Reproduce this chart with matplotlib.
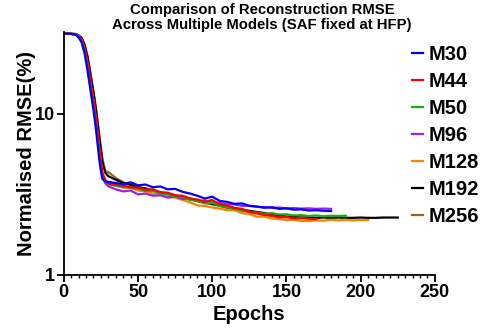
import numpy as np
import matplotlib
matplotlib.use("Agg")
import matplotlib.pyplot as plt
from matplotlib.ticker import MultipleLocator, FixedLocator, NullLocator, FixedFormatter

plt.rcParams["font.family"] = ["Liberation Sans", "DejaVu Sans"]
plt.rcParams["font.weight"] = "bold"

# epochs: dense during the drop, every 5 epochs in the tail
EPOCHS_DROP = [0, 4, 8, 10, 12, 14, 16, 18, 20, 21, 22, 23, 24, 25, 26, 28, 30]
EPOCHS_TAIL = list(range(35, 230, 5))

models = ["M30", "M44", "M50", "M96", "M128", "M192", "M256"]
colors = ["#0000ff", "#ff0000", "#13b013", "#a020f0", "#ff8000", "#000000", "#9c6424"]

drop = {
    "M30":  [31.5, 31.5, 31.0, 29.8, 27.8, 23.8, 18.5, 14.0, 10.5, 9.0, 7.5, 6.2, 5.1, 4.4, 3.95, 3.8, 3.78],
    "M44":  [31.5, 31.5, 31.2, 30.4, 28.8, 25.3, 20.5, 15.5, 12.0, 10.3, 8.7, 7.2, 6.0, 5.0, 4.3, 3.85, 3.7],
    "M50":  [31.5, 31.5, 31.2, 30.3, 28.6, 25.0, 20.2, 15.3, 11.8, 10.1, 8.5, 7.0, 5.8, 4.9, 4.2, 3.8, 3.65],
    "M96":  [31.5, 31.5, 31.2, 30.3, 28.5, 24.8, 20.0, 15.0, 11.5, 9.9, 8.3, 6.9, 5.7, 4.8, 4.1, 3.7, 3.55],
    "M128": [31.5, 31.5, 31.2, 30.4, 28.8, 25.3, 20.5, 15.5, 12.0, 10.3, 8.7, 7.2, 6.0, 5.0, 4.3, 3.9, 3.7],
    "M192": [31.5, 31.5, 31.3, 30.7, 29.6, 26.8, 22.5, 17.5, 13.5, 11.7, 10.0, 8.4, 7.0, 5.9, 5.0, 4.3, 4.1],
    "M256": [31.5, 31.5, 31.4, 30.8, 29.8, 27.0, 22.8, 17.8, 13.8, 12.0, 10.3, 8.7, 7.3, 6.2, 5.3, 4.4, 4.35],
}

tail = {
    "M30":  [3.72, 3.66, 3.76, 3.6, 3.64, 3.5, 3.54, 3.4, 3.42, 3.28, 3.2, 3.1, 2.98, 3.06, 2.88,
             2.84, 2.76, 2.78, 2.68, 2.66, 2.61, 2.63, 2.57, 2.59, 2.54, 2.55, 2.51, 2.52, 2.5, 2.49],
    "M44":  [3.62, 3.58, 3.5, 3.48, 3.38, 3.4, 3.26, 3.24, 3.12, 3.1, 2.98, 2.94, 2.84, 2.92, 2.74,
             2.7, 2.6, 2.57, 2.46, 2.43, 2.36, 2.34, 2.28, 2.29, 2.24, 2.26, 2.23, 2.22],
    "M50":  [3.58, 3.52, 3.48, 3.42, 3.32, 3.32, 3.2, 3.18, 3.06, 3.04, 2.92, 2.88, 2.78, 2.8, 2.68,
             2.64, 2.56, 2.54, 2.47, 2.44, 2.4, 2.42, 2.37, 2.38, 2.34, 2.35, 2.32, 2.34, 2.31, 2.33,
             2.32, 2.33],
    "M96":  [3.4, 3.3, 3.34, 3.16, 3.2, 3.1, 3.12, 3.02, 3.06, 2.96, 2.98, 2.88, 2.9, 2.82, 2.8,
             2.74, 2.74, 2.68, 2.69, 2.64, 2.64, 2.61, 2.62, 2.59, 2.6, 2.58, 2.59, 2.57, 2.58, 2.57],
    "M128": [3.58, 3.48, 3.46, 3.34, 3.3, 3.2, 3.18, 3.06, 3.02, 2.92, 2.82, 2.7, 2.68, 2.62, 2.58,
             2.52, 2.52, 2.42, 2.38, 2.3, 2.3, 2.24, 2.22, 2.19, 2.2, 2.16, 2.16, 2.18, 2.17, 2.2,
             2.18, 2.2, 2.18, 2.19, 2.19],
    "M192": [3.9, 3.72, 3.62, 3.5, 3.44, 3.34, 3.26, 3.18, 3.12, 3.04, 2.98, 2.88, 2.84, 2.76, 2.7,
             2.64, 2.6, 2.54, 2.5, 2.46, 2.42, 2.37, 2.34, 2.3, 2.29, 2.27, 2.28, 2.26, 2.27, 2.26,
             2.27, 2.26, 2.26, 2.27, 2.26, 2.26, 2.27, 2.27, 2.27],
    "M256": [4.0, 3.76, 3.64, 3.5, 3.44, 3.32, 3.26, 3.16, 3.1, 3.0, 2.96, 2.86, 2.8, 2.74, 2.68,
             2.6, 2.56, 2.5, 2.44, 2.4, 2.35, 2.32, 2.29, 2.28, 2.25, 2.25],
}

fig = plt.figure(figsize=(4.87, 3.36), dpi=100)
ax = fig.add_axes([0.131, 0.182, 0.762, 0.723])

handles = {}
for name, c in reversed(list(zip(models, colors))):
    vals = drop[name] + tail[name]
    ep = EPOCHS_DROP + EPOCHS_TAIL[:len(tail[name])]
    (h,) = ax.plot(ep, vals, color=c, lw=1.6, label=name)
    handles[name] = h

ax.set_yscale("log")
ax.set_xlim(0, 250)
ax.set_ylim(1, 32.3)
ax.yaxis.set_major_locator(FixedLocator([1, 10]))
ax.yaxis.set_major_formatter(FixedFormatter(["1", "10"]))
ax.yaxis.set_minor_locator(NullLocator())
ax.xaxis.set_major_locator(MultipleLocator(50))
ax.xaxis.set_minor_locator(MultipleLocator(5))

for s in ["top", "right"]:
    ax.spines[s].set_visible(False)
for s in ["left", "bottom"]:
    ax.spines[s].set_linewidth(1.3)
ax.tick_params(which="major", length=5, width=1.3, labelsize=13, pad=1.5)
ax.tick_params(which="minor", length=2.5, width=1.0)

ax.set_xlabel("Epochs", fontsize=14.5, fontweight="bold", labelpad=3)
ax.set_ylabel("Normalised RMSE(%)", fontsize=14.5, fontweight="bold", labelpad=-1)
fig.text(0.538, 0.991, "Comparison of Reconstruction RMSE\nAcross Multiple Models (SAF fixed at HFP)",
         ha="center", va="top", fontsize=10.7, fontweight="bold", linespacing=1.12)

fig.legend([handles[m] for m in models], models, loc="upper left",
           bbox_to_anchor=(0.845, 0.866), frameon=False,
           handlelength=0.55, handletextpad=0.3, labelspacing=0.4,
           borderpad=0, borderaxespad=0, prop={"weight": "bold", "size": 14.5})

fig.savefig("out.png", dpi=100)
